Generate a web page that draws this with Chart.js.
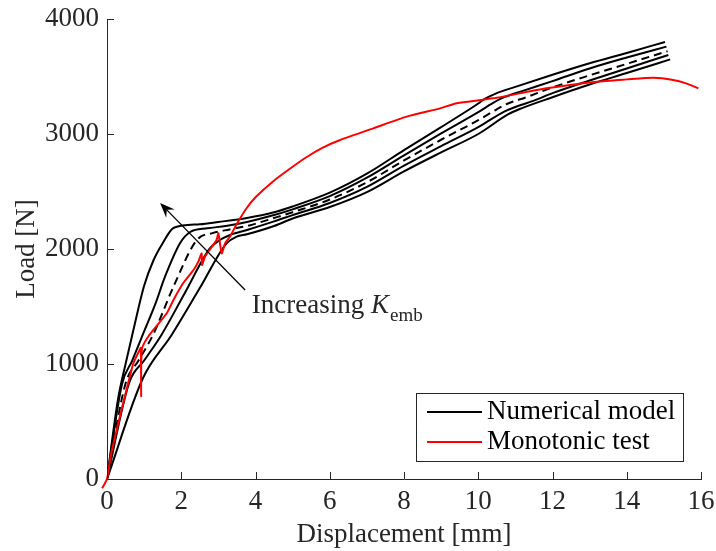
<!DOCTYPE html>
<html>
<head>
<meta charset="utf-8">
<script src="https://cdn.jsdelivr.net/npm/chart.js@4.4.1/dist/chart.umd.min.js"></script>
<style>
  html, body { margin: 0; padding: 0; background: #fff; }
</style>
</head>
<body>
<canvas id="loadChart" width="716" height="551"></canvas>
<script>
"use strict";

// Numerical model, five embedment stiffnesses (stiffest first, dashed = middle one)
const dispA = [0, 0.3, 0.5, 0.7, 1.0, 1.25, 1.5, 1.8, 2.5, 3.0, 3.77, 4.5, 5, 6, 7, 8, 9, 10, 10.13, 10.5, 11, 12, 13, 14, 15.03];
const loadA = [0, 700, 1000, 1280, 1680, 1900, 2050, 2185, 2215, 2235, 2270, 2320, 2370, 2490, 2655, 2860, 3060, 3265, 3296, 3355, 3410, 3515, 3615, 3705, 3800];

const dispB = [0, 0.4, 0.68, 0.97, 1.3, 1.56, 1.97, 2.24, 2.7, 3.2, 3.77, 4.5, 5, 6, 7, 8, 9, 10, 10.4, 10.7, 11.2, 12, 13, 14, 15.07];
const loadB = [0, 820, 1030, 1260, 1520, 1757, 2052, 2148, 2180, 2200, 2235, 2295, 2345, 2460, 2620, 2815, 3005, 3190, 3270, 3320, 3375, 3460, 3570, 3665, 3760];

const dispMid = [0, 0.5, 0.85, 1.25, 1.8, 2.42, 2.86, 3.3, 3.77, 4.5, 5, 6, 7, 8, 9, 10, 10.5, 10.8, 11.3, 12, 13, 14, 15.1];
const loadMid = [0, 830, 1030, 1260, 1680, 2078, 2140, 2170, 2200, 2270, 2320, 2430, 2580, 2770, 2950, 3120, 3215, 3265, 3320, 3405, 3510, 3610, 3720];

const dispC = [0, 0.6, 1.0, 1.47, 2.1, 2.77, 3.04, 3.3, 3.77, 4.5, 5, 6, 7, 8, 9, 10, 10.7, 11.0, 11.5, 12, 13, 14, 15.12];
const loadC = [0, 840, 1030, 1255, 1620, 2006, 2078, 2120, 2165, 2240, 2295, 2400, 2540, 2725, 2895, 3060, 3195, 3235, 3290, 3355, 3465, 3570, 3687];

const dispD = [0, 0.97, 1.74, 2.5, 3.22, 3.49, 3.77, 4.5, 5, 6, 7, 8, 9, 10, 10.8, 11.1, 12, 13, 14, 15.17];
const loadD = [0, 878, 1252, 1660, 2049, 2107, 2128, 2200, 2265, 2365, 2495, 2675, 2840, 3000, 3170, 3215, 3320, 3430, 3530, 3649];

// Monotonic test
const dispTest = [-0.13, 0, 0.1, 0.26, 0.48, 0.71, 0.86, 0.91, 0.92, 0.94, 1.14, 1.61, 1.79, 2.05, 2.33, 2.46, 2.55, 2.56, 2.64, 2.95, 3.0, 3.09, 3.18, 3.31, 3.5, 3.75, 4.0, 4.48, 5.0, 5.38, 5.8, 6.28, 7.17, 8.07, 8.97, 9.42, 10.4, 11.84, 13.19, 14.0, 14.72, 15.25, 15.6, 15.93];
const loadTest = [-80, 0, 200, 426, 716, 1006, 1110, 1140, 720, 1130, 1252, 1441, 1557, 1702, 1817, 1890, 1962, 1861, 1933, 2078, 2136, 1962, 2049, 2107, 2220, 2350, 2450, 2590, 2715, 2800, 2880, 2948, 3049, 3151, 3223, 3267, 3310, 3397, 3455, 3475, 3490, 3470, 3440, 3397];

const xTickValues = [0, 2, 4, 6, 8, 10, 12, 14, 16];
const yTickValues = [0, 1000, 2000, 3000, 4000];

const legendLabels = ["Numerical model", "Monotonic test"];

const axisColor = "#262626";
const serif = "'Liberation Serif', 'Times New Roman', serif";

function pts(xs, ys) {
  return xs.map((x, i) => ({ x: x, y: ys[i] }));
}

function modelSet(xs, ys, dashed) {
  return {
    label: legendLabels[0],
    data: pts(xs, ys),
    borderColor: "#000000",
    backgroundColor: "#000000",
    borderWidth: 2,
    borderDash: dashed ? [8, 5] : [],
    pointRadius: 0,
    cubicInterpolationMode: "monotone",
    fill: false,
  };
}

// ticks pointing into the plot, like the original figure
const innerTicks = {
  id: "innerTicks",
  afterDraw(chart) {
    const { ctx, chartArea, scales } = chart;
    ctx.save();
    ctx.strokeStyle = axisColor;
    ctx.lineWidth = 1;
    ctx.beginPath();
    xTickValues.forEach((v) => {
      const px = Math.round(scales.x.getPixelForValue(v)) + 0.5;
      ctx.moveTo(px, chartArea.bottom);
      ctx.lineTo(px, chartArea.bottom - 7);
    });
    yTickValues.forEach((v) => {
      const py = Math.round(scales.y.getPixelForValue(v)) + 0.5;
      ctx.moveTo(chartArea.left, py);
      ctx.lineTo(chartArea.left + 7, py);
    });
    ctx.stroke();
    ctx.restore();
  },
};

// arrow + "Increasing K_emb" note
const arrowFrom = { x: 3.72, y: 1643 };
const arrowTo = { x: 1.43, y: 2400 };
const noteAt = { x: 3.9, y: 1445 };

const annotation = {
  id: "annotation",
  afterDatasetsDraw(chart) {
    const { ctx, scales } = chart;
    const x1 = scales.x.getPixelForValue(arrowFrom.x);
    const y1 = scales.y.getPixelForValue(arrowFrom.y);
    const x2 = scales.x.getPixelForValue(arrowTo.x);
    const y2 = scales.y.getPixelForValue(arrowTo.y);
    const ang = Math.atan2(y2 - y1, x2 - x1);
    const head = 16;
    ctx.save();
    ctx.strokeStyle = "#000";
    ctx.fillStyle = "#000";
    ctx.lineWidth = 1.3;
    ctx.beginPath();
    ctx.moveTo(x1, y1);
    ctx.lineTo(x2 - Math.cos(ang) * head * 0.6, y2 - Math.sin(ang) * head * 0.6);
    ctx.stroke();
    ctx.beginPath();
    ctx.moveTo(x2, y2);
    ctx.lineTo(x2 - head * Math.cos(ang - 0.38), y2 - head * Math.sin(ang - 0.38));
    ctx.lineTo(x2 - head * 0.6 * Math.cos(ang), y2 - head * 0.6 * Math.sin(ang));
    ctx.lineTo(x2 - head * Math.cos(ang + 0.38), y2 - head * Math.sin(ang + 0.38));
    ctx.closePath();
    ctx.fill();

    let tx = scales.x.getPixelForValue(noteAt.x);
    const ty = scales.y.getPixelForValue(noteAt.y);
    ctx.textBaseline = "alphabetic";
    ctx.textAlign = "left";
    ctx.fillStyle = axisColor;
    ctx.font = "27px " + serif;
    ctx.fillText("Increasing ", tx, ty);
    tx += ctx.measureText("Increasing ").width;
    ctx.font = "italic 27px " + serif;
    ctx.fillText("K", tx, ty);
    tx += ctx.measureText("K").width + 1;
    ctx.font = "19px " + serif;
    ctx.fillText("emb", tx, ty + 8);
    ctx.restore();
  },
};

// boxed legend in the lower right corner
const boxLegend = {
  id: "boxLegend",
  afterDraw(chart) {
    const { ctx } = chart;
    const left = 416, top = 393, w = 267, h = 68;
    ctx.save();
    ctx.fillStyle = "#fff";
    ctx.fillRect(left, top, w, h);
    ctx.strokeStyle = axisColor;
    ctx.lineWidth = 1;
    ctx.strokeRect(left + 0.5, top + 0.5, w, h);
    const rows = [
      { text: legendLabels[0], color: "#000000", y: top + 19 },
      { text: legendLabels[1], color: "#ff0000", y: top + 49 },
    ];
    ctx.font = "27px " + serif;
    ctx.textBaseline = "middle";
    ctx.textAlign = "left";
    rows.forEach((r) => {
      ctx.strokeStyle = r.color;
      ctx.lineWidth = 2;
      ctx.beginPath();
      ctx.moveTo(left + 11, r.y);
      ctx.lineTo(left + 66, r.y);
      ctx.stroke();
      ctx.fillStyle = "#000";
      ctx.fillText(r.text, left + 71, r.y);
    });
    ctx.restore();
  },
};

const data = {
  datasets: [
    {
      label: legendLabels[1],
      data: pts(dispTest, loadTest),
      borderColor: "#ff0000",
      backgroundColor: "#ff0000",
      borderWidth: 2,
      pointRadius: 0,
      tension: 0.2,
      fill: false,
      clip: false,
    },
    modelSet(dispA, loadA, false),
    modelSet(dispB, loadB, false),
    modelSet(dispMid, loadMid, true),
    modelSet(dispC, loadC, false),
    modelSet(dispD, loadD, false),
  ],
};

const config = {
  type: "line",
  data: data,
  options: {
    responsive: false,
    animation: false,
    devicePixelRatio: 1,
    layout: {
      padding: { left: 0, top: 19, right: 15, bottom: 0 },
    },
    plugins: {
      legend: { display: false },
      tooltip: { enabled: false },
    },
    scales: {
      x: {
        type: "linear",
        position: "bottom",
        min: 0,
        max: 16,
        afterBuildTicks: (s) => { s.ticks = xTickValues.map((v) => ({ value: v })); },
        afterFit: (s) => { s.height = 72; s.paddingLeft = 0; s.paddingRight = 0; },
        grid: { display: false, drawTicks: false },
        border: { display: true, color: axisColor, width: 1 },
        ticks: {
          color: axisColor,
          padding: 7,
          maxRotation: 0,
          font: { family: serif, size: 27 },
        },
        title: {
          display: true,
          text: "Displacement [mm]",
          color: axisColor,
          font: { family: serif, size: 27 },
          padding: { top: 0, bottom: 0 },
        },
      },
      y: {
        type: "linear",
        min: 0,
        max: 4000,
        afterBuildTicks: (s) => { s.ticks = yTickValues.map((v) => ({ value: v })); },
        afterFit: (s) => { s.width = 107; s.paddingTop = 0; s.paddingBottom = 0; },
        grid: { display: false, drawTicks: false },
        border: { display: true, color: axisColor, width: 1 },
        ticks: {
          color: axisColor,
          padding: 8,
          font: { family: serif, size: 27 },
          callback: (value) => String(value),
        },
        title: {
          display: true,
          text: "Load [N]",
          color: axisColor,
          font: { family: serif, size: 27 },
          padding: { top: 11, bottom: 0 },
        },
      },
    },
  },
  plugins: [innerTicks, annotation, boxLegend],
};

const loadChart = new Chart(document.getElementById("loadChart"), config);
</script>
</body>
</html>
